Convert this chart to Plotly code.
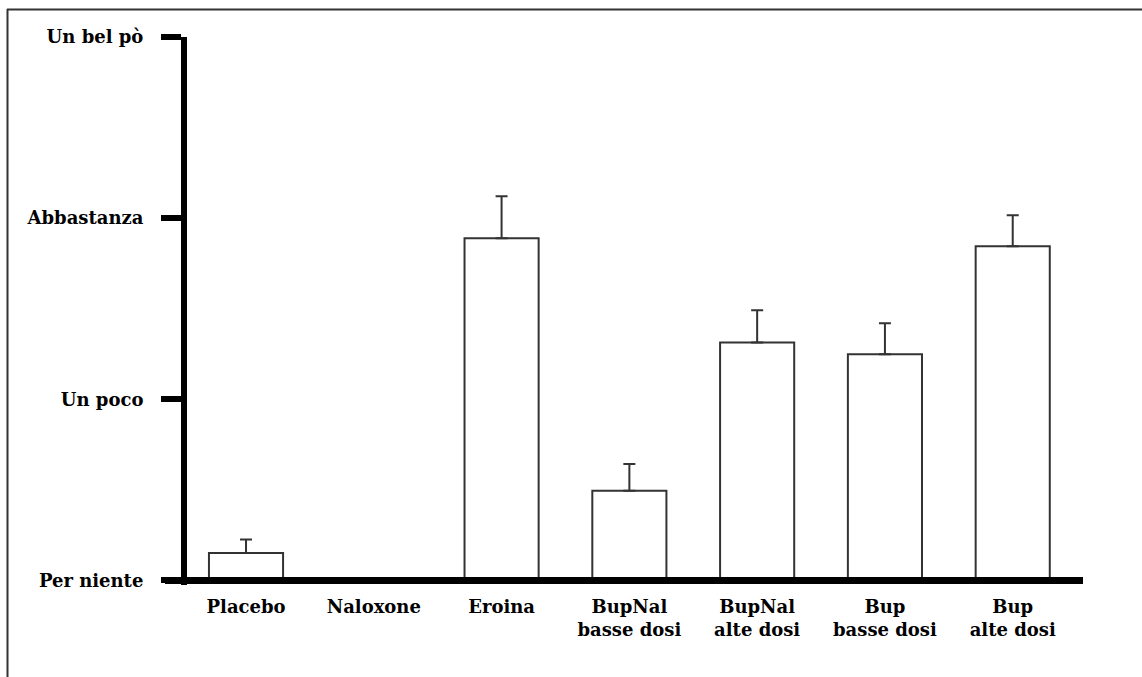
import plotly.graph_objects as go

categories = ["Placebo", "Naloxone", "Eroina", "BupNal<br>basse dosi",
              "BupNal<br>alte dosi", "Bup<br>basse dosi", "Bup<br>alte dosi"]
means = [0.152, 0.0, 1.889, 0.495, 1.314, 1.249, 1.845]
errors = [0.074, 0.0, 0.232, 0.148, 0.178, 0.171, 0.171]
ytick_vals = [0, 1, 2, 3]
ytick_text = ["Per niente", "Un poco", "Abbastanza", "Un bel pò"]

W, H = 1142, 677
L, R, T, B = 165, 1083, 37, 585  # plot area in px

FONT = "DejaVu Serif"

fig = go.Figure()
fig.add_trace(go.Bar(
    x=list(range(len(categories))),
    y=means,
    width=0.58,
    marker=dict(color="white", line=dict(color="#333333", width=2)),
    error_y=dict(type="data", array=errors, symmetric=False, arrayminus=[0]*len(errors),
                 color="#333333", thickness=2, width=6),
    showlegend=False,
))

def px2px(x):
    return (x - L) / (R - L)

def py2py(y):
    return (B - y) / (B - T)

fig.update_layout(
    width=W, height=H,
    margin=dict(l=L, r=W - R, t=T, b=H - B),
    paper_bgcolor="white", plot_bgcolor="white",
    font=dict(family=FONT, size=18, color="black"),
    xaxis=dict(
        range=[-0.634, 6.55],
        tickmode="array",
        tickvals=list(range(len(categories))),
        ticktext=[f"<b>{c}</b>" for c in categories],
        showline=False,
        ticks="", showgrid=False, zeroline=False,
        tickfont=dict(family=FONT, size=18, color="black"),
        ticklabelstandoff=9,
    ),
    yaxis=dict(
        range=[-0.025, 3],
        anchor="free", position=px2px(184),
        tickmode="array", tickvals=ytick_vals,
        ticktext=[f"<b>{t}</b>" for t in ytick_text],
        showline=True, linewidth=6, linecolor="black",
        ticks="outside", ticklen=20, tickwidth=6, tickcolor="black",
        showgrid=False,
        zeroline=True, zerolinewidth=7, zerolinecolor="black",
        zerolinelayer="above traces",
        tickfont=dict(family=FONT, size=18, color="black"),
        ticklabelstandoff=14,
    ),
)

# thin frame (top and left) around the figure
fig.add_shape(type="line", xref="paper", yref="paper",
              x0=px2px(7), x1=px2px(1142), y0=py2py(9.5), y1=py2py(9.5),
              line=dict(color="#333333", width=2))
fig.add_shape(type="line", xref="paper", yref="paper",
              x0=px2px(7.5), x1=px2px(7.5), y0=py2py(9), y1=py2py(677),
              line=dict(color="#333333", width=2))

fig.write_html("out.html", config={"displayModeBar": False},
               post_script="document.body.style.margin='0px';")
